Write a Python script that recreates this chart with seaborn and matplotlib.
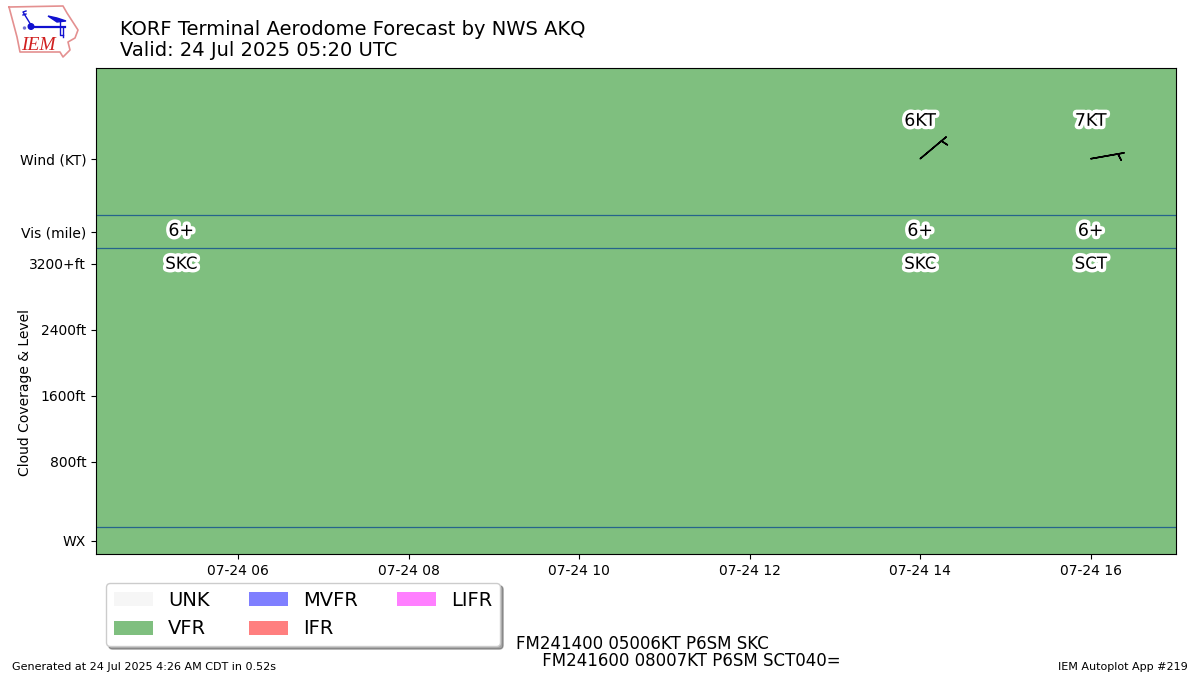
import matplotlib
matplotlib.use("Agg")
import matplotlib.dates as mdates
import matplotlib.patheffects as PathEffects
import matplotlib.pyplot as plt
import numpy as np
import pandas as pd
import seaborn as sns
from matplotlib.patches import Circle, Polygon, Rectangle

# forecast groups, level in ft
fx_times = pd.to_datetime(["2025-07-24 05:20", "2025-07-24 14:00", "2025-07-24 16:00"])
vis_labels = ["6+", "6+", "6+"]
cloud_labels = ["SKC", "SKC", "SCT"]
wind_times = pd.to_datetime(["2025-07-24 14:00", "2025-07-24 16:00"])
wind_dir = [50, 80]
wind_speed = [6, 7]
wind_labels = ["6KT", "7KT"]

y_ticks = [-160, 800, 1600, 2400, 3200, 3588, 4473]
y_labels = ["WX", "800ft", "1600ft", "2400ft", "3200+ft", "Vis (mile)", "Wind (KT)"]
row_breaks = [6, 3394, 3794]
cat_names = ["UNK", "VFR", "MVFR", "IFR", "LIFR"]
cat_colors = ["#EEEEEE", "green", "blue", "red", "magenta"]

# logo outline, figure pixels
logo_x = [9, 63, 67, 78, 75, 68, 70, 63, 60, 20, 17, 13, 9]
logo_y = [7, 6, 13, 30, 38, 42, 50, 57, 52, 52, 37, 22, 7]

x_start = pd.Timestamp("2025-07-24 04:20")
x_end = pd.Timestamp("2025-07-24 17:00")
y_low, y_high = -318, 5573

fig = plt.figure(figsize=(12, 6.75), dpi=100)
ax = fig.add_axes([96 / 1200, 1 - 554 / 675, 1080 / 1200, 486 / 675])

ax.axvspan(x_start, x_end, color=cat_colors[1], alpha=0.5, lw=0, zorder=1)

for level in row_breaks:
    sns.lineplot(x=[x_start, x_end], y=[level, level], color="#26648c", lw=0.9,
                 ax=ax, zorder=2, errorbar=None)

effects = [PathEffects.withStroke(linewidth=5, foreground="white")]
for when, vis, cloud in zip(fx_times, vis_labels, cloud_labels):
    ax.text(when, 3600, vis, ha="center", va="center", fontsize=12.5,
            path_effects=effects, zorder=4)
    ax.text(when, 3200, cloud, ha="center", va="center", fontsize=12,
            path_effects=effects, zorder=4)

rad = np.radians(wind_dir)
u = -np.array(wind_speed) * np.sin(rad)
v = -np.array(wind_speed) * np.cos(rad)
wind_x = mdates.date2num(wind_times)
ax.barbs(wind_x, [4473, 4473], u, v, zorder=3, linewidth=1.1)
for when, label in zip(wind_times, wind_labels):
    ax.text(when, 4933, label, ha="center", va="center", fontsize=12.5,
            path_effects=effects, zorder=4)

ax.set_xlim(x_start, x_end)
ax.set_ylim(y_low, y_high)
ax.xaxis.set_major_locator(mdates.HourLocator(byhour=range(0, 24, 2)))
ax.xaxis.set_major_formatter(mdates.DateFormatter("%m-%d %H"))
ax.set_yticks(y_ticks)
ax.set_yticklabels(y_labels)
ax.set_xlabel("")
ax.set_ylabel("Cloud Coverage & Level")
ax.yaxis.set_label_coords(-0.0593, 0.332)

handles = [Rectangle((0, 0), 1, 1, fc=c, alpha=0.5) for c in cat_colors]
fig.legend(handles, cat_names, ncols=3, fontsize=14, fancybox=True, shadow=True,
           loc="upper left", bbox_to_anchor=(106 / 1200, 1 - 583 / 675),
           borderaxespad=0)

fig.text(120 / 1200, 1 - 35 / 675, "KORF Terminal Aerodome Forecast by NWS AKQ", fontsize=14, va="baseline")
fig.text(120 / 1200, 1 - 56 / 675, "Valid: 24 Jul 2025 05:20 UTC", fontsize=14, va="baseline")
fig.text(516 / 1200, 1 - 666 / 675,
         "FM241400 05006KT P6SM SKC\n     FM241600 08007KT P6SM SCT040=",
         fontsize=12, va="baseline", linespacing=0.95)
fig.text(12 / 1200, 1 - 670 / 675, "Generated at 24 Jul 2025 4:26 AM CDT in 0.52s", fontsize=8, va="baseline")
fig.text(1188 / 1200, 1 - 670 / 675, "IEM Autoplot App #219", fontsize=8, ha="right", va="baseline")

# little IEM logo in pixel space
logo = fig.add_axes([0, 1 - 65 / 675, 90 / 1200, 65 / 675])
logo.set_xlim(0, 90)
logo.set_ylim(65, 0)
logo.axis("off")
logo.plot(logo_x, logo_y, color="#e49090", lw=1.2)
logo.plot([31, 65], [26.5, 26.5], color="#1010d0", lw=1.6)
logo.plot([31, 23, 26], [25, 12, 11], color="#1010d0", lw=1)
logo.plot([23, 26], [15, 14], color="#1010d0", lw=1)
logo.add_patch(Circle((31, 26.5), 2.8, color="#1010d0"))
logo.add_patch(Polygon([[48, 16], [57, 22], [66, 21], [57, 18]], color="#1010d0"))
logo.plot([60, 60, 63], [22, 35, 35], color="#1010d0", lw=1)
logo.plot([63, 63], [28, 37], color="#1010d0", lw=1)
logo.add_patch(Circle((24.5, 28), 1, color="#7070d0"))
logo.text(21, 45, "IEM", color="#d02020", fontsize=14, family="Liberation Serif",
          style="italic", va="center")

fig.savefig("out.png", dpi=100)
